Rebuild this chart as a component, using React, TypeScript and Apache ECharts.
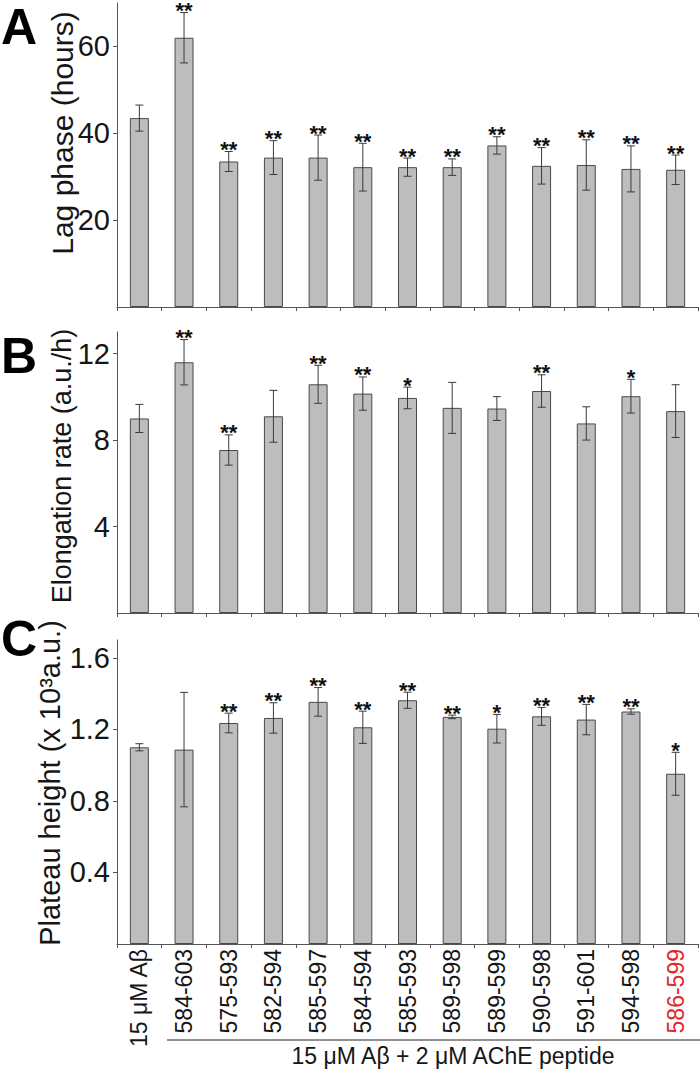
import React, { useEffect, useRef } from "react";
import * as echarts from "echarts";

const categories = [
  "15 μM Aβ", "584-603", "575-593", "582-594", "585-597", "584-594", "585-593",
  "589-598", "589-599", "590-598", "591-601", "594-598", "586-599",
];

const lagMean = [43.5, 62.0, 33.5, 34.4, 34.4, 32.2, 32.2, 32.2, 37.2, 32.5, 32.7, 31.8, 31.6];
const lagErr = [3.0, 5.8, 2.3, 3.9, 5.2, 5.5, 2.1, 1.9, 2.0, 4.2, 5.8, 5.3, 3.4];
const lagSig = ["", "**", "**", "**", "**", "**", "**", "**", "**", "**", "**", "**", "**"];
const lagTicks = [20, 40, 60];

const elongMean = [9.0, 11.6, 7.54, 9.1, 10.58, 10.15, 9.95, 9.49, 9.46, 10.27, 8.77, 10.03, 9.34];
const elongErr = [0.65, 1.05, 0.7, 1.2, 0.88, 0.77, 0.5, 1.18, 0.55, 0.75, 0.77, 0.78, 1.22];
const elongSig = ["", "**", "**", "", "**", "**", "*", "", "", "**", "", "*", ""];
const elongTicks = [4, 8, 12];

const plateauMean = [1.1, 1.087, 1.236, 1.264, 1.354, 1.212, 1.363, 1.27, 1.204, 1.273, 1.255, 1.3, 0.952];
const plateauErr = [0.02, 0.32, 0.055, 0.085, 0.08, 0.09, 0.045, 0.01, 0.08, 0.05, 0.085, 0.015, 0.12];
const plateauSig = ["", "", "**", "**", "**", "**", "**", "**", "*", "**", "**", "**", "*"];
const plateauTicks = [0.4, 0.8, 1.2, 1.6];

const FONT = "'Liberation Sans', Arial, Helvetica, sans-serif";
const AXIS_COLOR = "#555";
const TEXT_COLOR = "#161616";

function errorSeries(idx: number, mean: number[], err: number[], sig: string[]) {
  return {
    type: "custom",
    xAxisIndex: idx,
    yAxisIndex: idx,
    clip: false,
    z: 5,
    data: mean.map((m, i) => [i, m, err[i]]),
    encode: { x: 0, y: 1 },
    renderItem: (params: any, api: any) => {
      const x = api.value(0);
      const m = api.value(1);
      const e = api.value(2);
      const top = api.coord([x, m + e]);
      const bot = api.coord([x, m - e]);
      const hw = 4;
      const ls = { stroke: "#3a3a3a", lineWidth: 1 };
      const children: any[] = [
        { type: "line", shape: { x1: top[0], y1: top[1], x2: bot[0], y2: bot[1] }, style: ls },
        { type: "line", shape: { x1: top[0] - hw, y1: top[1], x2: top[0] + hw, y2: top[1] }, style: ls },
        { type: "line", shape: { x1: bot[0] - hw, y1: bot[1], x2: bot[0] + hw, y2: bot[1] }, style: ls },
      ];
      const s = sig[params.dataIndex];
      if (s) {
        children.push({
          type: "text",
          x: top[0],
          y: top[1] - 2,
          style: {
            text: s,
            fill: "#111",
            fontSize: 22,
            lineHeight: 12,
            fontWeight: "bold",
            fontFamily: FONT,
            align: "center",
            verticalAlign: "middle",
          },
        });
      }
      return { type: "group", children };
    },
  };
}

function barSeries(idx: number, mean: number[]) {
  return {
    type: "bar",
    xAxisIndex: idx,
    yAxisIndex: idx,
    data: mean,
    barWidth: 19,
    itemStyle: { color: "#bdbdbd", borderColor: "#4a4a4a", borderWidth: 1 },
  };
}

function yAxis(idx: number, max: number, ticks: number[]) {
  return {
    gridIndex: idx,
    type: "value",
    min: 0,
    max,
    axisLine: { show: true, lineStyle: { color: AXIS_COLOR, width: 1 } },
    axisTick: { show: true, length: 4, customValues: ticks, lineStyle: { color: AXIS_COLOR } },
    axisLabel: {
      customValues: ticks,
      fontSize: 29,
      color: TEXT_COLOR,
      fontFamily: FONT,
      margin: 7,
    },
    splitLine: { show: false },
  };
}

function xAxis(idx: number, showLabels: boolean) {
  return {
    gridIndex: idx,
    type: "category",
    data: categories,
    boundaryGap: true,
    axisLine: { show: true, lineStyle: { color: AXIS_COLOR, width: 1 } },
    axisTick: { show: true, length: 4, interval: 0, alignWithLabel: false, lineStyle: { color: AXIS_COLOR } },
    axisLabel: showLabels
      ? {
          show: true,
          interval: 0,
          rotate: 90,
          margin: 5,
          fontSize: 23,
          fontFamily: FONT,
          color: TEXT_COLOR,
          formatter: (v: string, i: number) => (i === categories.length - 1 ? `{red|${v}}` : `{k|${v}}`),
          rich: {
            red: { color: "#e3262b", fontSize: 23, fontFamily: FONT },
            k: { color: TEXT_COLOR, fontSize: 23, fontFamily: FONT },
          },
        }
      : { show: false },
    splitLine: { show: false },
  };
}

export default function App() {
  const ref = useRef<HTMLDivElement>(null);
  useEffect(() => {
    if (!ref.current) return;
    const chart = echarts.init(ref.current, null, { renderer: "svg" });
    const option: any = {
      animation: false,
      backgroundColor: "#ffffff",
      grid: [
        { left: 117, right: 2, top: 3, height: 304 },
        { left: 117, right: 2, top: 332, height: 281 },
        { left: 117, right: 2, top: 640, height: 304 },
      ],
      xAxis: [xAxis(0, false), xAxis(1, false), xAxis(2, true)],
      yAxis: [yAxis(0, 70, lagTicks), yAxis(1, 13, elongTicks), yAxis(2, 1.7, plateauTicks)],
      series: [
        barSeries(0, lagMean),
        errorSeries(0, lagMean, lagErr, lagSig),
        barSeries(1, elongMean),
        errorSeries(1, elongMean, elongErr, elongSig),
        barSeries(2, plateauMean),
        errorSeries(2, plateauMean, plateauErr, plateauSig),
      ],
      graphic: [
        { type: "text", left: 1, top: 2, style: { text: "A", fontSize: 50, lineHeight: 44, fontWeight: "bold", fontFamily: FONT, fill: "#000" } },
        { type: "text", left: 1, top: 331, style: { text: "B", fontSize: 50, lineHeight: 44, fontWeight: "bold", fontFamily: FONT, fill: "#000" } },
        { type: "text", left: 1, top: 614, style: { text: "C", fontSize: 50, lineHeight: 44, fontWeight: "bold", fontFamily: FONT, fill: "#000" } },
        {
          type: "text", x: 62, y: 133, rotation: Math.PI / 2,
          style: { text: "Lag phase (hours)", fontSize: 30, fontFamily: FONT, fill: TEXT_COLOR, align: "center", verticalAlign: "middle" },
        },
        {
          type: "text", x: 62, y: 466, rotation: Math.PI / 2,
          style: { text: "Elongation rate (a.u./h)", fontSize: 27, fontFamily: FONT, fill: TEXT_COLOR, align: "center", verticalAlign: "middle" },
        },
        {
          type: "text", x: 50, y: 783, rotation: Math.PI / 2,
          style: { text: "Plateau height (x 10³a.u.)", fontSize: 29, fontFamily: FONT, fill: TEXT_COLOR, align: "center", verticalAlign: "middle" },
        },
        {
          type: "line", shape: { x1: 167, y1: 1040, x2: 700, y2: 1040 },
          style: { stroke: "#222", lineWidth: 1 },
        },
        {
          type: "text", x: 453, y: 1056,
          style: { text: "15 μM Aβ + 2 μM AChE peptide", fontSize: 23, lineHeight: 22, fontFamily: FONT, fill: TEXT_COLOR, align: "center", verticalAlign: "middle" },
        },
      ],
    };
    chart.setOption(option);
    return () => chart.dispose();
  }, []);
  return <div ref={ref} style={{ position: "absolute", left: 0, top: 0, width: 700, height: 1069 }} />;
}
